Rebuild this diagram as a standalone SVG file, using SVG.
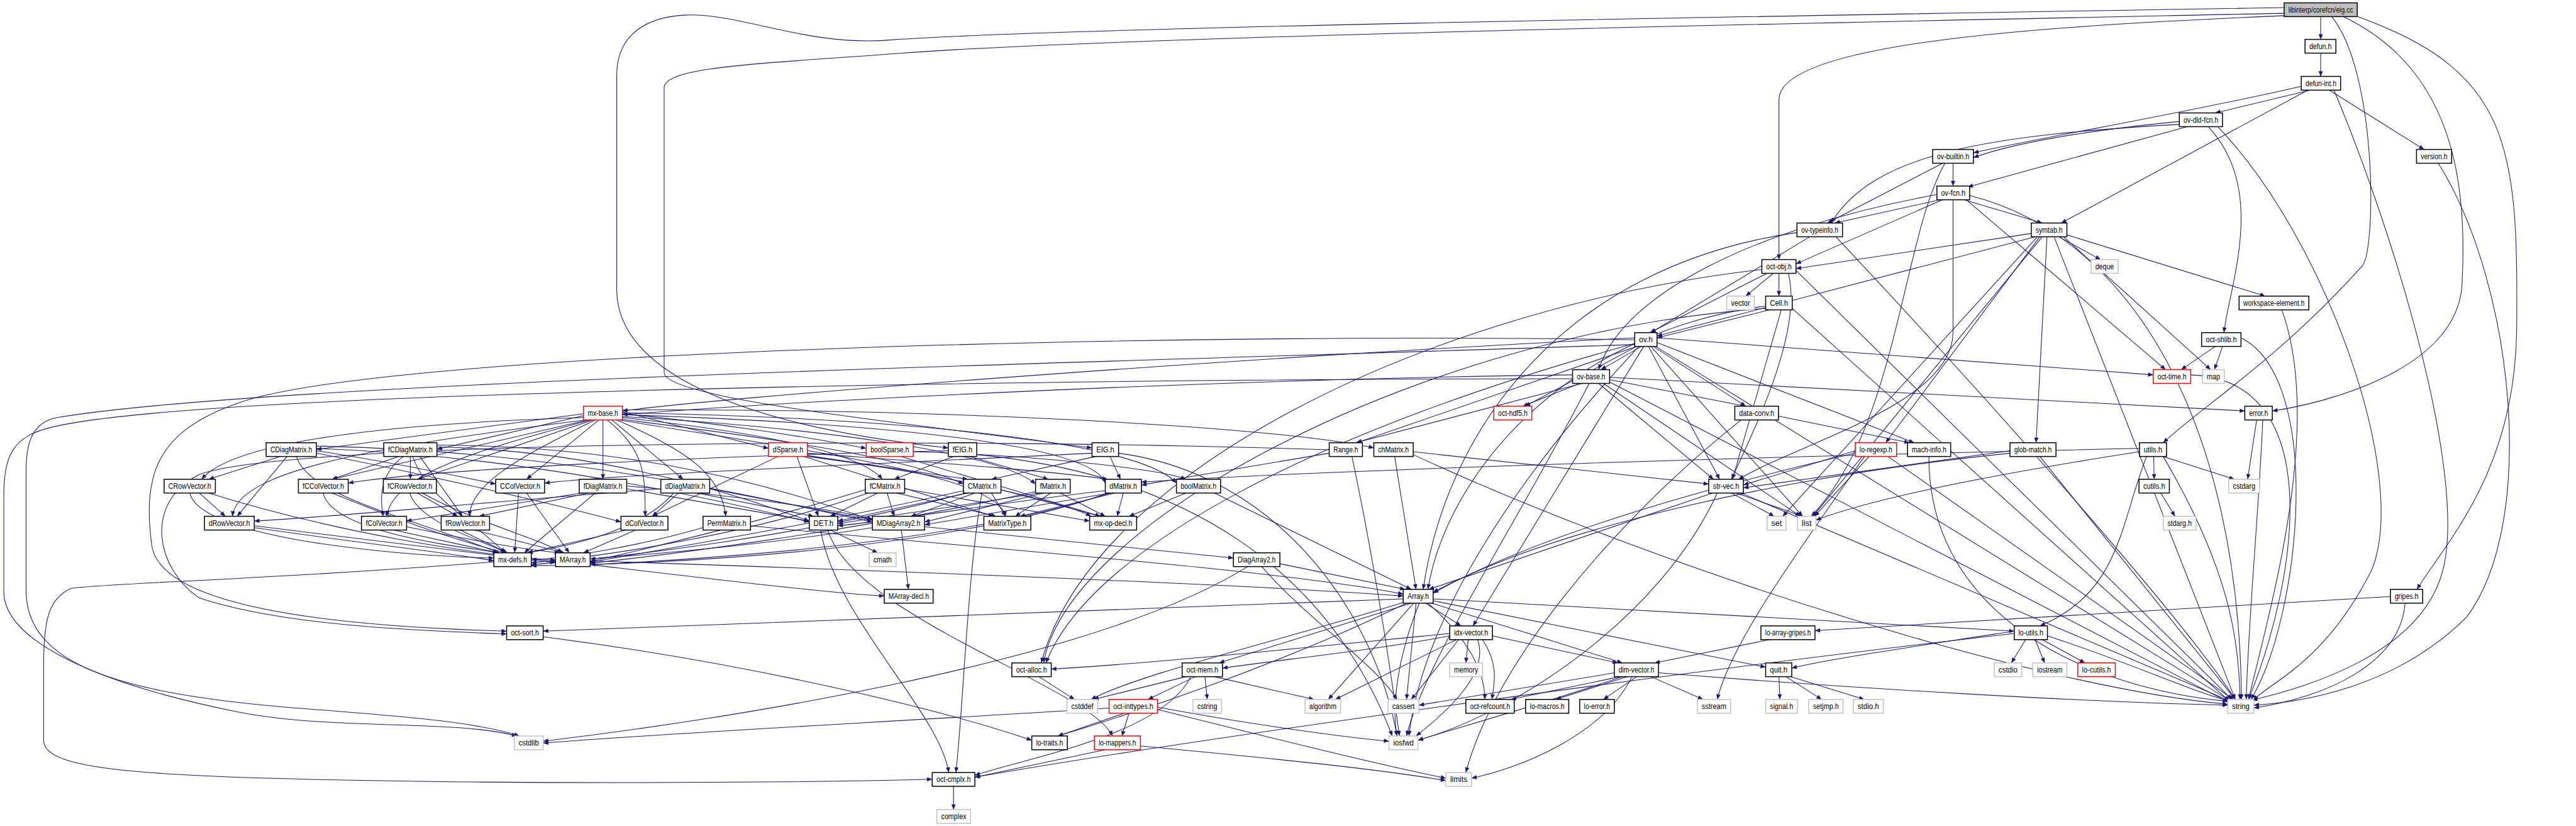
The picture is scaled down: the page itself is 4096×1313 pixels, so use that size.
<svg xmlns="http://www.w3.org/2000/svg" width="4096" height="1313" viewBox="0 0 4096 1313">
<defs>
<marker id="a" markerUnits="userSpaceOnUse" viewBox="0 0 12 10" refX="12" refY="5" markerWidth="13" markerHeight="9" orient="auto"><path d="M0,0 L12,5 L0,10 z" fill="#191970"/></marker>
<style>
#edges path{fill:none;stroke:#191970;stroke-width:1.4;marker-end:url(#a)}
.node rect{fill:#fff;stroke:#000;stroke-width:2}
.node.g rect{stroke:#bfbfbf}
.node.r rect{stroke:#ff0000}
.node.root rect{fill:#bfbfbf}
.node text{font-family:"Liberation Sans",Arial,sans-serif;font-size:17px;text-anchor:middle;fill:#000}
</style>
</defs>
<rect width="4096" height="1313" fill="#fff"/>
<g transform="scale(0.7543)">
<g id="edges">
<path d="M4892,35 L4892,83"/>
<path d="M4815,16 C4000,30 2300,55 1880,84 C1700,100 1560,25 1440,32 C1330,40 1300,100 1300,160 L1300,610 C1300,760 1500,890 1999,944"/>
<path d="M4815,28 C4000,45 2400,75 1900,112 C1600,135 1400,140 1400,185 L1400,785 C1400,840 1900,890 2302,944"/>
<path d="M4815,33 C4300,55 3750,90 3750,210 L3750,547"/>
<path d="M4915,35 C5010,150 5010,520 4980,560 C4800,760 4650,850 4560,933"/>
<path d="M4940,35 C5180,150 5200,400 5190,600 C5180,780 4900,850 4790,866"/>
<path d="M4965,33 C5290,150 5310,300 5305,700 C5300,1000 5150,1150 5095,1242"/>
<path d="M4892,112 L4892,161"/>
<path d="M4870,190 L4670,238"/>
<path d="M4851,182 C4600,240 4300,290 4160,322"/>
<path d="M4865,190 L4345,470"/>
<path d="M4910,190 L5110,315"/>
<path d="M4920,190 C5050,500 5200,1000 5150,1200 C5100,1400 4800,1460 4748,1476"/>
<path d="M4594,256 C4400,275 4250,300 4160,332"/>
<path d="M4610,267 L4148,394"/>
<path d="M4594,262 C4200,285 3950,320 3860,470"/>
<path d="M4655,267 C4780,400 4700,600 4688,701"/>
<path d="M4675,267 C4900,500 5080,1000 5000,1200 C4900,1400 4780,1440 4750,1476"/>
<path d="M4117,344 L4117,392"/>
<path d="M4095,344 L3852,470"/>
<path d="M4100,344 C4010,500 4000,900 3818,1088"/>
<path d="M5140,344 C5300,600 5350,1100 5200,1300 C5050,1450 4850,1480 4751,1486"/>
<path d="M4090,421 L3868,470"/>
<path d="M4095,421 L3786,556"/>
<path d="M4140,421 L4305,470"/>
<path d="M4083,410 C3700,480 3420,620 3370,779"/>
<path d="M4145,421 L4565,779"/>
<path d="M4117,421 L4117,700 C4117,850 3800,930 3665,1010"/>
<path d="M4152,412 C4500,500 4720,900 4725,1474"/>
<path d="M3815,499 L3480,701"/>
<path d="M3788,490 C3300,560 3050,900 3000,1242"/>
<path d="M3870,499 C4200,850 4600,1300 4712,1474"/>
<path d="M4282,492 L3786,566"/>
<path d="M4290,499 L3493,708"/>
<path d="M4340,499 L4428,547"/>
<path d="M4357,495 L4775,624"/>
<path d="M4350,499 L4660,779"/>
<path d="M4315,499 L4292,933"/>
<path d="M4300,499 L3975,933"/>
<path d="M4295,499 L3758,1088"/>
<path d="M4305,499 L3822,1088"/>
<path d="M4330,499 L4712,1474"/>
<path d="M3738,576 L3680,624"/>
<path d="M3750,576 L3750,624"/>
<path d="M3725,576 L3478,701"/>
<path d="M3714,568 C3000,650 2300,1000 2195,1397"/>
<path d="M3770,576 C3800,700 3700,900 3650,1010"/>
<path d="M3786,570 L4705,1474"/>
<path d="M3730,653 L3493,712"/>
<path d="M3755,653 L3652,1010"/>
<path d="M3722,645 C3300,700 3050,1000 3010,1242"/>
<path d="M3722,650 C3000,700 2250,1100 2200,1397"/>
<path d="M3778,650 L4700,1478"/>
<path d="M4810,653 C4900,900 4780,1300 4740,1474"/>
<path d="M4670,730 L4598,779"/>
<path d="M4685,730 L4668,779"/>
<path d="M4724,712 C4900,800 4850,1300 4745,1474"/>
<path d="M3460,730 L3375,779"/>
<path d="M3450,730 L3215,856"/>
<path d="M3485,730 L3680,856"/>
<path d="M3446,712 C2500,760 1500,840 1312,866"/>
<path d="M3450,730 L2860,933"/>
<path d="M3493,722 L4035,933"/>
<path d="M3475,730 L3625,1010"/>
<path d="M3465,730 L3105,1319"/>
<path d="M3446,724 C2800,900 2300,1150 2205,1397"/>
<path d="M3493,712 L4539,790"/>
<path d="M3446,716 C2500,700 800,740 500,850 C330,910 300,1000 320,1150 C340,1280 700,1320 1068,1330"/>
<path d="M3480,730 L3800,1088"/>
<path d="M3490,730 L4700,1476"/>
<path d="M3455,730 C3200,1000 3000,1300 2970,1551"/>
<path d="M3446,726 C2500,760 600,800 120,880 C70,890 55,930 55,990 L55,1250 C60,1400 250,1460 600,1490 C850,1510 1000,1520 1095,1551"/>
<path d="M3335,808 L2858,933"/>
<path d="M3393,800 L3680,856"/>
<path d="M3330,808 L3210,856"/>
<path d="M3370,808 L3612,1010"/>
<path d="M3315,790 C2500,800 1600,850 1312,874"/>
<path d="M3393,795 L4732,866"/>
<path d="M3380,808 L3795,1088"/>
<path d="M3393,805 L4698,1480"/>
<path d="M3350,808 C3200,1100 3000,1400 2965,1551"/>
<path d="M3315,798 C2000,800 400,830 110,900 C25,920 8,960 8,1050 L8,1250 C12,1350 200,1440 500,1500 C700,1540 950,1515 1090,1551"/>
<path d="M3670,885 C3400,1100 3150,1400 3090,1628"/>
<path d="M3749,877 L4025,933"/>
<path d="M1230,872 L667,947"/>
<path d="M1230,876 L921,947"/>
<path d="M1230,880 C900,890 500,920 425,1010"/>
<path d="M1240,885 L700,1010"/>
<path d="M1250,885 L880,1010"/>
<path d="M1262,885 L1110,1010"/>
<path d="M1271,885 L1271,1010"/>
<path d="M1235,885 C800,940 500,990 490,1088"/>
<path d="M1245,885 C1000,950 830,1000 815,1088"/>
<path d="M1255,885 C1100,960 990,1020 990,1088"/>
<path d="M1280,885 C1360,950 1360,1000 1360,1088"/>
<path d="M1290,885 L1440,1010"/>
<path d="M1300,885 C1450,950 1520,1000 1530,1088"/>
<path d="M1312,868 L1620,945"/>
<path d="M1312,872 C1500,890 1700,920 1826,945"/>
<path d="M1312,880 C1500,900 1800,940 1860,1010"/>
<path d="M1312,884 C1600,920 1900,960 2031,1020"/>
<path d="M1312,878 C1700,900 2100,950 2183,1020"/>
<path d="M1312,874 C1800,890 2300,930 2330,1018"/>
<path d="M1312,870 C1900,880 2400,930 2480,1018"/>
<path d="M1312,864 C2000,860 2700,900 2896,944"/>
<path d="M1305,885 C1700,950 2100,1000 2120,1088"/>
<path d="M590,962 L440,1010"/>
<path d="M605,962 L500,1088"/>
<path d="M667,950 C800,970 950,1000 1045,1020"/>
<path d="M667,955 C900,1000 1200,1070 1309,1100"/>
<path d="M667,945 C1100,960 1500,1050 1706,1100"/>
<path d="M667,940 C1200,950 1600,1050 1839,1100"/>
<path d="M625,962 C650,1050 900,1100 1050,1165"/>
<path d="M840,962 L700,1010"/>
<path d="M865,962 L865,1010"/>
<path d="M850,962 C800,1000 800,1050 808,1088"/>
<path d="M885,962 L975,1088"/>
<path d="M921,942 C1300,950 1600,1060 1706,1098"/>
<path d="M921,938 C1400,940 1700,1050 1839,1096"/>
<path d="M870,962 C900,1050 1000,1100 1065,1165"/>
<path d="M420,1039 L475,1088"/>
<path d="M440,1039 C700,1120 1000,1170 1171,1180"/>
<path d="M400,1039 C420,1130 800,1170 1041,1176"/>
<path d="M700,1039 C900,1120 1050,1170 1171,1184"/>
<path d="M681,1039 C700,1120 950,1150 1055,1165"/>
<path d="M880,1039 L965,1088"/>
<path d="M890,1039 C1000,1100 1150,1140 1185,1165"/>
<path d="M864,1039 C880,1100 1020,1140 1068,1165"/>
<path d="M1110,1039 L1200,1165"/>
<path d="M1093,1039 L1085,1165"/>
<path d="M1240,1039 L1010,1088"/>
<path d="M1225,1039 L857,1098"/>
<path d="M1321,1030 L1706,1098"/>
<path d="M1321,1024 C1500,1040 1750,1070 1839,1094"/>
<path d="M1255,1039 L1105,1165"/>
<path d="M1393,1030 C1000,1060 700,1090 536,1098"/>
<path d="M1430,1039 L1375,1088"/>
<path d="M1470,1039 L1715,1088"/>
<path d="M1496,1030 L1839,1096"/>
<path d="M1420,1039 C1350,1120 1200,1150 1112,1165"/>
<path d="M536,1108 C800,1140 1050,1170 1171,1186"/>
<path d="M536,1112 C800,1150 950,1165 1041,1182"/>
<path d="M857,1110 C1000,1140 1120,1160 1180,1165"/>
<path d="M830,1117 L1050,1165"/>
<path d="M1000,1117 L1190,1165"/>
<path d="M970,1117 L1070,1165"/>
<path d="M1340,1117 L1230,1165"/>
<path d="M1320,1117 L1112,1165"/>
<path d="M1582,1108 C2000,1150 2700,1200 2958,1252"/>
<path d="M1482,1112 C1350,1150 1200,1175 1120,1180"/>
<path d="M1750,1117 L1850,1165"/>
<path d="M1730,1117 C1760,1300 1980,1500 2000,1628"/>
<path d="M1745,1117 C1800,1300 2300,1450 2345,1551"/>
<path d="M1949,1110 L2600,1176"/>
<path d="M1839,1112 C1600,1150 1350,1170 1244,1178"/>
<path d="M1900,1117 L1915,1242"/>
<path d="M2698,1188 L2962,1242"/>
<path d="M2660,1194 C2750,1300 2900,1400 2945,1474"/>
<path d="M2630,1194 C2300,1400 1500,1520 1145,1562"/>
<path d="M1244,1182 C1800,1200 2600,1230 2958,1256"/>
<path d="M1244,1190 C1500,1220 1750,1250 1864,1256"/>
<path d="M1041,1184 C600,1220 200,1230 150,1240 C105,1260 92,1300 92,1400 L92,1560 C92,1625 300,1640 1000,1648 C1500,1652 1900,1645 1965,1642"/>
<path d="M1850,1039 L1750,1088"/>
<path d="M1870,1039 L1885,1088"/>
<path d="M1890,1039 L2100,1088"/>
<path d="M1907,1030 L2297,1098"/>
<path d="M1824,1032 C1600,1100 1350,1160 1244,1183"/>
<path d="M1830,1039 C1600,1120 1300,1170 1120,1186"/>
<path d="M2040,1039 L1766,1098"/>
<path d="M2055,1039 L1920,1088"/>
<path d="M2090,1039 L2120,1088"/>
<path d="M2110,1032 L2320,1088"/>
<path d="M2031,1034 C1700,1110 1350,1165 1244,1185"/>
<path d="M2035,1039 C1700,1130 1300,1175 1120,1190"/>
<path d="M2070,1039 C2040,1200 2030,1500 2015,1628"/>
<path d="M2190,1039 C2000,1070 1850,1090 1766,1104"/>
<path d="M2200,1039 L1949,1100"/>
<path d="M2215,1039 L2140,1088"/>
<path d="M2235,1039 L2330,1088"/>
<path d="M2183,1036 C1800,1120 1400,1170 1244,1187"/>
<path d="M2330,1034 C2100,1060 1900,1095 1766,1108"/>
<path d="M2340,1039 L1949,1106"/>
<path d="M2350,1039 L2150,1088"/>
<path d="M2368,1039 L2355,1088"/>
<path d="M2340,1039 C2000,1150 1450,1180 1244,1190"/>
<path d="M2335,1039 C2000,1160 1400,1190 1120,1192"/>
<path d="M2500,1039 L2380,1088"/>
<path d="M2560,1039 L2975,1242"/>
<path d="M2940,962 L2985,1242"/>
<path d="M2979,952 L3602,1020"/>
<path d="M2979,958 C3500,1200 4300,1450 4696,1484"/>
<path d="M2340,962 L2362,1010"/>
<path d="M2310,962 L2090,1010"/>
<path d="M2302,955 C1800,980 1300,1000 1148,1018"/>
<path d="M2358,955 C2700,1000 2900,1300 2945,1551"/>
<path d="M2045,962 L2210,1010"/>
<path d="M2010,962 L1885,1010"/>
<path d="M1999,950 C1500,960 900,990 734,1018"/>
<path d="M2059,958 C2500,1000 2800,1200 2935,1551"/>
<path d="M1702,955 C1900,970 2200,990 2335,1010"/>
<path d="M1702,960 L2040,1010"/>
<path d="M1640,962 L1375,1088"/>
<path d="M1680,962 L1725,1088"/>
<path d="M1695,962 L2095,1088"/>
<path d="M1702,962 C2000,1000 2250,1060 2300,1088"/>
<path d="M1925,952 C2200,960 2450,990 2500,1010"/>
<path d="M1900,962 L2320,1088"/>
<path d="M2802,955 L2406,1022"/>
<path d="M2802,948 C2000,920 600,930 420,1000 C300,1060 330,1200 420,1260 C600,1320 900,1330 1068,1336"/>
<path d="M2850,962 C2900,1200 2930,1400 2950,1551"/>
<path d="M3610,1039 L3012,1242"/>
<path d="M3650,1039 L3740,1088"/>
<path d="M3660,1039 L3800,1088"/>
<path d="M3670,1039 L4702,1478"/>
<path d="M3620,1039 C3500,1300 3200,1500 2989,1560"/>
<path d="M3911,955 C3500,1050 3200,1150 3021,1250"/>
<path d="M3911,950 L3675,1022"/>
<path d="M3940,962 L3825,1088"/>
<path d="M3930,962 C3800,1150 3650,1350 3620,1474"/>
<path d="M3980,962 L4708,1474"/>
<path d="M4066,962 C4066,1300 4400,1450 4696,1478"/>
<path d="M4237,955 C3800,1000 3300,1100 3021,1248"/>
<path d="M4237,950 L3675,1028"/>
<path d="M4300,962 L4712,1474"/>
<path d="M4540,962 L4541,1010"/>
<path d="M4560,962 L4710,1010"/>
<path d="M4525,962 C4470,1100 4470,1250 4300,1319"/>
<path d="M4510,945 C3800,960 2800,990 2406,1016"/>
<path d="M4510,952 C4200,1000 3950,1050 3828,1096"/>
<path d="M4560,962 C4700,1200 4720,1350 4722,1474"/>
<path d="M4555,1039 L4585,1088"/>
<path d="M4757,885 L4738,1010"/>
<path d="M4770,885 C4760,1100 4740,1300 4735,1474"/>
<path d="M5039,1257 L3826,1329"/>
<path d="M5070,1271 C5060,1400 4900,1470 4751,1492"/>
<path d="M4270,1348 L4240,1397"/>
<path d="M4290,1348 L4310,1397"/>
<path d="M4305,1348 L4395,1397"/>
<path d="M4316,1340 C4500,1400 4600,1450 4700,1478"/>
<path d="M4246,1335 C3500,1420 2500,1560 2055,1638"/>
<path d="M4246,1330 C4050,1360 3850,1390 3777,1408"/>
<path d="M3730,1348 L3488,1397"/>
<path d="M3005,1271 L3080,1319"/>
<path d="M3018,1271 L3420,1397"/>
<path d="M3021,1262 L4246,1330"/>
<path d="M3021,1266 L3722,1406"/>
<path d="M2958,1262 L1145,1330"/>
<path d="M2965,1271 C2700,1400 2400,1500 2230,1551"/>
<path d="M2975,1271 L2570,1397"/>
<path d="M3010,1271 C3100,1350 3130,1420 3130,1474"/>
<path d="M2985,1271 L2965,1474"/>
<path d="M2960,1269 C2700,1350 2400,1420 2300,1474"/>
<path d="M2980,1271 L2800,1474"/>
<path d="M2992,1271 C2940,1400 2935,1500 2945,1551"/>
<path d="M3095,1348 L3090,1397"/>
<path d="M3146,1340 L3410,1397"/>
<path d="M3056,1335 C2700,1370 2400,1400 2216,1410"/>
<path d="M3056,1340 C2900,1370 2700,1390 2577,1408"/>
<path d="M3125,1348 C3160,1400 3150,1440 3145,1474"/>
<path d="M3075,1348 L2975,1474"/>
<path d="M3070,1348 L2815,1474"/>
<path d="M3115,1348 C3140,1420 3050,1500 2985,1551"/>
<path d="M3403,1418 L2991,1486"/>
<path d="M3415,1426 L3185,1474"/>
<path d="M3430,1426 L3280,1474"/>
<path d="M3450,1426 L3380,1474"/>
<path d="M3480,1426 L3590,1474"/>
<path d="M3440,1426 C3380,1550 3200,1620 3102,1640"/>
<path d="M3420,1426 C3200,1500 3050,1540 2989,1560"/>
<path d="M3496,1418 C3900,1450 4400,1480 4696,1486"/>
<path d="M3750,1426 L3752,1474"/>
<path d="M3765,1426 L3840,1474"/>
<path d="M3775,1426 L3930,1474"/>
<path d="M2500,1426 L2305,1474"/>
<path d="M2540,1426 L2545,1474"/>
<path d="M2560,1426 L2770,1474"/>
<path d="M2520,1426 L2420,1474"/>
<path d="M2510,1426 C2450,1550 2150,1600 2055,1634"/>
<path d="M2190,1426 L2265,1474"/>
<path d="M2370,1503 L2230,1551"/>
<path d="M2380,1503 L2365,1551"/>
<path d="M2440,1495 C2700,1560 2900,1610 3048,1640"/>
<path d="M2440,1490 C2600,1520 2800,1550 2928,1562"/>
<path d="M2338,1492 C1900,1520 1400,1545 1145,1566"/>
<path d="M2330,1580 L2055,1638"/>
<path d="M2404,1572 C2700,1600 2900,1620 3048,1645"/>
<path d="M2010,1657 L2010,1706"/>
<path d="M1145,1342 C1600,1400 2000,1500 2175,1560"/>
<path d="M4618,790 C4900,800 4850,1200 4740,1474"/>
</g>
<g id="n-eig" class="node root"><rect x="4815" y="6" width="154" height="29"/><text x="4892" y="26" textLength="136" lengthAdjust="spacingAndGlyphs">libinterp/corefcn/eig.cc</text></g>
<g id="n-defun" class="node"><rect x="4859" y="83" width="65" height="29"/><text x="4891.5" y="103" textLength="47" lengthAdjust="spacingAndGlyphs">defun.h</text></g>
<g id="n-defun-int" class="node"><rect x="4851" y="161" width="83" height="29"/><text x="4892.5" y="181" textLength="65" lengthAdjust="spacingAndGlyphs">defun-int.h</text></g>
<g id="n-ov-dld-fcn" class="node"><rect x="4594" y="238" width="91" height="29"/><text x="4639.5" y="258" textLength="73" lengthAdjust="spacingAndGlyphs">ov-dld-fcn.h</text></g>
<g id="n-ov-builtin" class="node"><rect x="4074" y="315" width="86" height="29"/><text x="4117" y="335" textLength="68" lengthAdjust="spacingAndGlyphs">ov-builtin.h</text></g>
<g id="n-version" class="node"><rect x="5094" y="315" width="74" height="29"/><text x="5131" y="335" textLength="56" lengthAdjust="spacingAndGlyphs">version.h</text></g>
<g id="n-ov-fcn" class="node"><rect x="4083" y="392" width="69" height="29"/><text x="4117.5" y="412" textLength="51" lengthAdjust="spacingAndGlyphs">ov-fcn.h</text></g>
<g id="n-ov-typeinfo" class="node"><rect x="3788" y="470" width="96" height="29"/><text x="3836" y="490" textLength="78" lengthAdjust="spacingAndGlyphs">ov-typeinfo.h</text></g>
<g id="n-symtab" class="node"><rect x="4282" y="470" width="75" height="29"/><text x="4319.5" y="490" textLength="57" lengthAdjust="spacingAndGlyphs">symtab.h</text></g>
<g id="n-oct-obj" class="node"><rect x="3714" y="547" width="72" height="29"/><text x="3750" y="567" textLength="54" lengthAdjust="spacingAndGlyphs">oct-obj.h</text></g>
<g id="n-deque" class="node g"><rect x="4408" y="547" width="57" height="29"/><text x="4436.5" y="567" textLength="39" lengthAdjust="spacingAndGlyphs">deque</text></g>
<g id="n-vector" class="node g"><rect x="3640" y="624" width="58" height="29"/><text x="3669" y="644" textLength="40" lengthAdjust="spacingAndGlyphs">vector</text></g>
<g id="n-Cell" class="node"><rect x="3722" y="624" width="56" height="29"/><text x="3750" y="644" textLength="38" lengthAdjust="spacingAndGlyphs">Cell.h</text></g>
<g id="n-workspace-element" class="node"><rect x="4720" y="624" width="147" height="29"/><text x="4793.5" y="644" textLength="129" lengthAdjust="spacingAndGlyphs">workspace-element.h</text></g>
<g id="n-ov" class="node"><rect x="3446" y="701" width="47" height="29"/><text x="3469.5" y="721" textLength="29" lengthAdjust="spacingAndGlyphs">ov.h</text></g>
<g id="n-oct-shlib" class="node"><rect x="4641" y="701" width="83" height="29"/><text x="4682.5" y="721" textLength="65" lengthAdjust="spacingAndGlyphs">oct-shlib.h</text></g>
<g id="n-ov-base" class="node"><rect x="3315" y="779" width="78" height="29"/><text x="3354" y="799" textLength="60" lengthAdjust="spacingAndGlyphs">ov-base.h</text></g>
<g id="n-oct-time" class="node r"><rect x="4539" y="779" width="79" height="29"/><text x="4578.5" y="799" textLength="61" lengthAdjust="spacingAndGlyphs">oct-time.h</text></g>
<g id="n-map" class="node g"><rect x="4643" y="779" width="46" height="29"/><text x="4666" y="799" textLength="28" lengthAdjust="spacingAndGlyphs">map</text></g>
<g id="n-mx-base" class="node r"><rect x="1230" y="856" width="82" height="29"/><text x="1271" y="876" textLength="64" lengthAdjust="spacingAndGlyphs">mx-base.h</text></g>
<g id="n-oct-hdf5" class="node r"><rect x="3149" y="856" width="80" height="29"/><text x="3189" y="876" textLength="62" lengthAdjust="spacingAndGlyphs">oct-hdf5.h</text></g>
<g id="n-data-conv" class="node"><rect x="3657" y="856" width="92" height="29"/><text x="3703" y="876" textLength="74" lengthAdjust="spacingAndGlyphs">data-conv.h</text></g>
<g id="n-error" class="node"><rect x="4732" y="856" width="58" height="29"/><text x="4761" y="876" textLength="40" lengthAdjust="spacingAndGlyphs">error.h</text></g>
<g id="n-CDiagMatrix" class="node"><rect x="561" y="933" width="106" height="29"/><text x="614" y="953" textLength="88" lengthAdjust="spacingAndGlyphs">CDiagMatrix.h</text></g>
<g id="n-fCDiagMatrix" class="node"><rect x="809" y="933" width="112" height="29"/><text x="865" y="953" textLength="94" lengthAdjust="spacingAndGlyphs">fCDiagMatrix.h</text></g>
<g id="n-dSparse" class="node r"><rect x="1620" y="933" width="82" height="29"/><text x="1661" y="953" textLength="64" lengthAdjust="spacingAndGlyphs">dSparse.h</text></g>
<g id="n-boolSparse" class="node r"><rect x="1826" y="933" width="99" height="29"/><text x="1875.5" y="953" textLength="81" lengthAdjust="spacingAndGlyphs">boolSparse.h</text></g>
<g id="n-fEIG" class="node"><rect x="1999" y="933" width="60" height="29"/><text x="2029" y="953" textLength="42" lengthAdjust="spacingAndGlyphs">fEIG.h</text></g>
<g id="n-EIG" class="node"><rect x="2302" y="933" width="56" height="29"/><text x="2330" y="953" textLength="38" lengthAdjust="spacingAndGlyphs">EIG.h</text></g>
<g id="n-Range" class="node"><rect x="2802" y="933" width="70" height="29"/><text x="2837" y="953" textLength="52" lengthAdjust="spacingAndGlyphs">Range.h</text></g>
<g id="n-chMatrix" class="node"><rect x="2896" y="933" width="83" height="29"/><text x="2937.5" y="953" textLength="65" lengthAdjust="spacingAndGlyphs">chMatrix.h</text></g>
<g id="n-lo-regexp" class="node r"><rect x="3911" y="933" width="87" height="29"/><text x="3954.5" y="953" textLength="69" lengthAdjust="spacingAndGlyphs">lo-regexp.h</text></g>
<g id="n-mach-info" class="node"><rect x="4021" y="933" width="91" height="29"/><text x="4066.5" y="953" textLength="73" lengthAdjust="spacingAndGlyphs">mach-info.h</text></g>
<g id="n-glob-match" class="node"><rect x="4237" y="933" width="97" height="29"/><text x="4285.5" y="953" textLength="79" lengthAdjust="spacingAndGlyphs">glob-match.h</text></g>
<g id="n-utils" class="node"><rect x="4510" y="933" width="57" height="29"/><text x="4538.5" y="953" textLength="39" lengthAdjust="spacingAndGlyphs">utils.h</text></g>
<g id="n-CRowVector" class="node"><rect x="346" y="1010" width="108" height="29"/><text x="400" y="1030" textLength="90" lengthAdjust="spacingAndGlyphs">CRowVector.h</text></g>
<g id="n-fCColVector" class="node"><rect x="629" y="1010" width="105" height="29"/><text x="681.5" y="1030" textLength="87" lengthAdjust="spacingAndGlyphs">fCColVector.h</text></g>
<g id="n-fCRowVector" class="node"><rect x="808" y="1010" width="112" height="29"/><text x="864" y="1030" textLength="94" lengthAdjust="spacingAndGlyphs">fCRowVector.h</text></g>
<g id="n-CColVector" class="node"><rect x="1045" y="1010" width="103" height="29"/><text x="1096.5" y="1030" textLength="85" lengthAdjust="spacingAndGlyphs">CColVector.h</text></g>
<g id="n-fDiagMatrix" class="node"><rect x="1221" y="1010" width="100" height="29"/><text x="1271" y="1030" textLength="82" lengthAdjust="spacingAndGlyphs">fDiagMatrix.h</text></g>
<g id="n-dDiagMatrix" class="node"><rect x="1393" y="1010" width="103" height="29"/><text x="1444.5" y="1030" textLength="85" lengthAdjust="spacingAndGlyphs">dDiagMatrix.h</text></g>
<g id="n-fCMatrix" class="node"><rect x="1824" y="1010" width="83" height="29"/><text x="1865.5" y="1030" textLength="65" lengthAdjust="spacingAndGlyphs">fCMatrix.h</text></g>
<g id="n-CMatrix" class="node"><rect x="2031" y="1010" width="79" height="29"/><text x="2070.5" y="1030" textLength="61" lengthAdjust="spacingAndGlyphs">CMatrix.h</text></g>
<g id="n-fMatrix" class="node"><rect x="2183" y="1010" width="73" height="29"/><text x="2219.5" y="1030" textLength="55" lengthAdjust="spacingAndGlyphs">fMatrix.h</text></g>
<g id="n-dMatrix" class="node"><rect x="2330" y="1010" width="76" height="29"/><text x="2368" y="1030" textLength="58" lengthAdjust="spacingAndGlyphs">dMatrix.h</text></g>
<g id="n-boolMatrix" class="node"><rect x="2480" y="1010" width="93" height="29"/><text x="2526.5" y="1030" textLength="75" lengthAdjust="spacingAndGlyphs">boolMatrix.h</text></g>
<g id="n-str-vec" class="node"><rect x="3602" y="1010" width="73" height="29"/><text x="3638.5" y="1030" textLength="55" lengthAdjust="spacingAndGlyphs">str-vec.h</text></g>
<g id="n-cutils" class="node"><rect x="4509" y="1010" width="64" height="29"/><text x="4541" y="1030" textLength="46" lengthAdjust="spacingAndGlyphs">cutils.h</text></g>
<g id="n-cstdarg" class="node g"><rect x="4698" y="1010" width="65" height="29"/><text x="4730.5" y="1030" textLength="47" lengthAdjust="spacingAndGlyphs">cstdarg</text></g>
<g id="n-dRowVector" class="node"><rect x="431" y="1088" width="105" height="29"/><text x="483.5" y="1108" textLength="87" lengthAdjust="spacingAndGlyphs">dRowVector.h</text></g>
<g id="n-fColVector" class="node"><rect x="762" y="1088" width="95" height="29"/><text x="809.5" y="1108" textLength="77" lengthAdjust="spacingAndGlyphs">fColVector.h</text></g>
<g id="n-fRowVector" class="node"><rect x="930" y="1088" width="102" height="29"/><text x="981" y="1108" textLength="84" lengthAdjust="spacingAndGlyphs">fRowVector.h</text></g>
<g id="n-dColVector" class="node"><rect x="1309" y="1088" width="99" height="29"/><text x="1358.5" y="1108" textLength="81" lengthAdjust="spacingAndGlyphs">dColVector.h</text></g>
<g id="n-PermMatrix" class="node"><rect x="1482" y="1088" width="100" height="29"/><text x="1532" y="1108" textLength="82" lengthAdjust="spacingAndGlyphs">PermMatrix.h</text></g>
<g id="n-DET" class="node"><rect x="1706" y="1088" width="60" height="29"/><text x="1736" y="1108" textLength="42" lengthAdjust="spacingAndGlyphs">DET.h</text></g>
<g id="n-MDiagArray2" class="node"><rect x="1839" y="1088" width="110" height="29"/><text x="1894" y="1108" textLength="92" lengthAdjust="spacingAndGlyphs">MDiagArray2.h</text></g>
<g id="n-MatrixType" class="node"><rect x="2074" y="1088" width="99" height="29"/><text x="2123.5" y="1108" textLength="81" lengthAdjust="spacingAndGlyphs">MatrixType.h</text></g>
<g id="n-mx-op-decl" class="node"><rect x="2297" y="1088" width="99" height="29"/><text x="2346.5" y="1108" textLength="81" lengthAdjust="spacingAndGlyphs">mx-op-decl.h</text></g>
<g id="n-set" class="node g"><rect x="3725" y="1088" width="40" height="29"/><text x="3745" y="1108" textLength="22" lengthAdjust="spacingAndGlyphs">set</text></g>
<g id="n-list" class="node g"><rect x="3789" y="1088" width="39" height="29"/><text x="3808.5" y="1108" textLength="21" lengthAdjust="spacingAndGlyphs">list</text></g>
<g id="n-stdarg" class="node g"><rect x="4560" y="1088" width="69" height="29"/><text x="4594.5" y="1108" textLength="51" lengthAdjust="spacingAndGlyphs">stdarg.h</text></g>
<g id="n-mx-defs" class="node"><rect x="1041" y="1165" width="79" height="29"/><text x="1080.5" y="1185" textLength="61" lengthAdjust="spacingAndGlyphs">mx-defs.h</text></g>
<g id="n-MArray" class="node"><rect x="1171" y="1165" width="73" height="29"/><text x="1207.5" y="1185" textLength="55" lengthAdjust="spacingAndGlyphs">MArray.h</text></g>
<g id="n-cmath" class="node g"><rect x="1832" y="1165" width="57" height="29"/><text x="1860.5" y="1185" textLength="39" lengthAdjust="spacingAndGlyphs">cmath</text></g>
<g id="n-DiagArray2" class="node"><rect x="2600" y="1165" width="98" height="29"/><text x="2649" y="1185" textLength="80" lengthAdjust="spacingAndGlyphs">DiagArray2.h</text></g>
<g id="n-MArray-decl" class="node"><rect x="1864" y="1242" width="103" height="29"/><text x="1915.5" y="1262" textLength="85" lengthAdjust="spacingAndGlyphs">MArray-decl.h</text></g>
<g id="n-Array" class="node"><rect x="2958" y="1242" width="63" height="29"/><text x="2989.5" y="1262" textLength="45" lengthAdjust="spacingAndGlyphs">Array.h</text></g>
<g id="n-gripes" class="node"><rect x="5039" y="1242" width="68" height="29"/><text x="5073" y="1262" textLength="50" lengthAdjust="spacingAndGlyphs">gripes.h</text></g>
<g id="n-oct-sort" class="node"><rect x="1068" y="1319" width="77" height="29"/><text x="1106.5" y="1339" textLength="59" lengthAdjust="spacingAndGlyphs">oct-sort.h</text></g>
<g id="n-idx-vector" class="node"><rect x="3056" y="1319" width="90" height="29"/><text x="3101" y="1339" textLength="72" lengthAdjust="spacingAndGlyphs">idx-vector.h</text></g>
<g id="n-lo-array-gripes" class="node"><rect x="3712" y="1319" width="114" height="29"/><text x="3769" y="1339" textLength="96" lengthAdjust="spacingAndGlyphs">lo-array-gripes.h</text></g>
<g id="n-lo-utils" class="node"><rect x="4246" y="1319" width="70" height="29"/><text x="4281" y="1339" textLength="52" lengthAdjust="spacingAndGlyphs">lo-utils.h</text></g>
<g id="n-oct-alloc" class="node"><rect x="2133" y="1397" width="83" height="29"/><text x="2174.5" y="1417" textLength="65" lengthAdjust="spacingAndGlyphs">oct-alloc.h</text></g>
<g id="n-oct-mem" class="node"><rect x="2492" y="1397" width="85" height="29"/><text x="2534.5" y="1417" textLength="67" lengthAdjust="spacingAndGlyphs">oct-mem.h</text></g>
<g id="n-memory" class="node g"><rect x="3056" y="1397" width="69" height="29"/><text x="3090.5" y="1417" textLength="51" lengthAdjust="spacingAndGlyphs">memory</text></g>
<g id="n-dim-vector" class="node"><rect x="3403" y="1397" width="93" height="29"/><text x="3449.5" y="1417" textLength="75" lengthAdjust="spacingAndGlyphs">dim-vector.h</text></g>
<g id="n-quit" class="node"><rect x="3722" y="1397" width="55" height="29"/><text x="3749.5" y="1417" textLength="37" lengthAdjust="spacingAndGlyphs">quit.h</text></g>
<g id="n-cstdio" class="node g"><rect x="4204" y="1397" width="58" height="29"/><text x="4233" y="1417" textLength="40" lengthAdjust="spacingAndGlyphs">cstdio</text></g>
<g id="n-iostream" class="node g"><rect x="4285" y="1397" width="72" height="29"/><text x="4321" y="1417" textLength="54" lengthAdjust="spacingAndGlyphs">iostream</text></g>
<g id="n-lo-cutils" class="node r"><rect x="4380" y="1397" width="79" height="29"/><text x="4419.5" y="1417" textLength="61" lengthAdjust="spacingAndGlyphs">lo-cutils.h</text></g>
<g id="n-cstddef" class="node g"><rect x="2249" y="1474" width="65" height="29"/><text x="2281.5" y="1494" textLength="47" lengthAdjust="spacingAndGlyphs">cstddef</text></g>
<g id="n-oct-inttypes" class="node r"><rect x="2338" y="1474" width="102" height="29"/><text x="2389" y="1494" textLength="84" lengthAdjust="spacingAndGlyphs">oct-inttypes.h</text></g>
<g id="n-cstring" class="node g"><rect x="2515" y="1474" width="60" height="29"/><text x="2545" y="1494" textLength="42" lengthAdjust="spacingAndGlyphs">cstring</text></g>
<g id="n-algorithm" class="node g"><rect x="2751" y="1474" width="75" height="29"/><text x="2788.5" y="1494" textLength="57" lengthAdjust="spacingAndGlyphs">algorithm</text></g>
<g id="n-cassert" class="node g"><rect x="2926" y="1474" width="65" height="29"/><text x="2958.5" y="1494" textLength="47" lengthAdjust="spacingAndGlyphs">cassert</text></g>
<g id="n-oct-refcount" class="node"><rect x="3090" y="1474" width="102" height="29"/><text x="3141" y="1494" textLength="84" lengthAdjust="spacingAndGlyphs">oct-refcount.h</text></g>
<g id="n-lo-macros" class="node"><rect x="3216" y="1474" width="91" height="29"/><text x="3261.5" y="1494" textLength="73" lengthAdjust="spacingAndGlyphs">lo-macros.h</text></g>
<g id="n-lo-error" class="node"><rect x="3330" y="1474" width="73" height="29"/><text x="3366.5" y="1494" textLength="55" lengthAdjust="spacingAndGlyphs">lo-error.h</text></g>
<g id="n-sstream" class="node g"><rect x="3578" y="1474" width="70" height="29"/><text x="3613" y="1494" textLength="52" lengthAdjust="spacingAndGlyphs">sstream</text></g>
<g id="n-signal" class="node g"><rect x="3722" y="1474" width="67" height="29"/><text x="3755.5" y="1494" textLength="49" lengthAdjust="spacingAndGlyphs">signal.h</text></g>
<g id="n-setjmp" class="node g"><rect x="3813" y="1474" width="72" height="29"/><text x="3849" y="1494" textLength="54" lengthAdjust="spacingAndGlyphs">setjmp.h</text></g>
<g id="n-stdio" class="node g"><rect x="3907" y="1474" width="63" height="29"/><text x="3938.5" y="1494" textLength="45" lengthAdjust="spacingAndGlyphs">stdio.h</text></g>
<g id="n-string" class="node g"><rect x="4696" y="1474" width="55" height="29"/><text x="4723.5" y="1494" textLength="37" lengthAdjust="spacingAndGlyphs">string</text></g>
<g id="n-cstdlib" class="node g"><rect x="1084" y="1551" width="61" height="29"/><text x="1114.5" y="1571" textLength="43" lengthAdjust="spacingAndGlyphs">cstdlib</text></g>
<g id="n-lo-traits" class="node"><rect x="2175" y="1551" width="75" height="29"/><text x="2212.5" y="1571" textLength="57" lengthAdjust="spacingAndGlyphs">lo-traits.h</text></g>
<g id="n-lo-mappers" class="node r"><rect x="2307" y="1551" width="97" height="29"/><text x="2355.5" y="1571" textLength="79" lengthAdjust="spacingAndGlyphs">lo-mappers.h</text></g>
<g id="n-iosfwd" class="node g"><rect x="2928" y="1551" width="61" height="29"/><text x="2958.5" y="1571" textLength="43" lengthAdjust="spacingAndGlyphs">iosfwd</text></g>
<g id="n-oct-cmplx" class="node"><rect x="1965" y="1628" width="90" height="29"/><text x="2010" y="1648" textLength="72" lengthAdjust="spacingAndGlyphs">oct-cmplx.h</text></g>
<g id="n-limits" class="node g"><rect x="3048" y="1628" width="54" height="29"/><text x="3075" y="1648" textLength="36" lengthAdjust="spacingAndGlyphs">limits</text></g>
<g id="n-complex" class="node g"><rect x="1975" y="1706" width="71" height="29"/><text x="2010.5" y="1726" textLength="53" lengthAdjust="spacingAndGlyphs">complex</text></g>
</g>
</svg>
